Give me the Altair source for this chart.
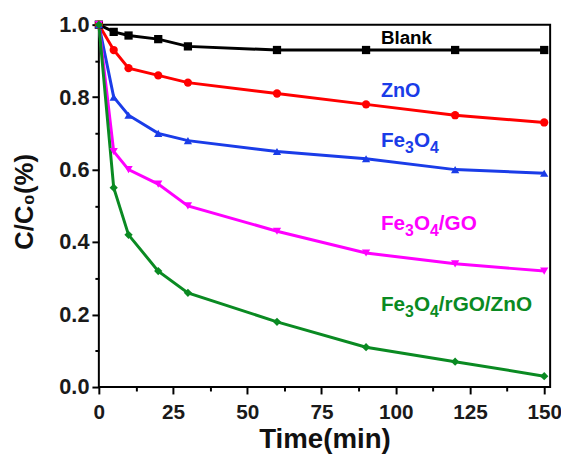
import altair as alt
import pandas as pd

# ---- data ----
time_min = [0, 5, 10, 20, 30, 60, 90, 120, 150]
blank = [1.00, 0.98, 0.97, 0.96, 0.94, 0.93, 0.93, 0.93, 0.93]
zno = [1.00, 0.93, 0.88, 0.86, 0.84, 0.81, 0.78, 0.75, 0.73]
fe3o4 = [1.00, 0.80, 0.75, 0.70, 0.68, 0.65, 0.63, 0.60, 0.59]
fe3o4_go = [1.00, 0.65, 0.60, 0.56, 0.50, 0.43, 0.37, 0.34, 0.32]
fe3o4_rgo_zno = [1.00, 0.55, 0.42, 0.32, 0.26, 0.18, 0.11, 0.07, 0.03]

series_names = ["Blank", "ZnO", "Fe3O4", "Fe3O4/GO", "Fe3O4/rGO/ZnO"]
series_values = [blank, zno, fe3o4, fe3o4_go, fe3o4_rgo_zno]
series_colors = ["#000000", "#FF0000", "#1a3ce8", "#FF00FF", "#0a8a22"]
series_shapes = ["square", "circle", "triangle-up", "triangle-down", "diamond"]

# labels as (text, is_subscript) pieces
label_pieces = [
    [("Blank", False)],
    [("ZnO", False)],
    [("Fe", False), ("3", True), ("O", False), ("4", True)],
    [("Fe", False), ("3", True), ("O", False), ("4", True), ("/GO", False)],
    [("Fe", False), ("3", True), ("O", False), ("4", True), ("/rGO/ZnO", False)],
]
label_colors = ["#000000", "#1a3ce8", "#1a3ce8", "#FF00FF", "#0a8a22"]
label_sizes = [19, 20, 21, 21, 21]
label_x = [95, 95, 95, 95, 95]
label_y = [0.946, 0.80, 0.662, 0.432, 0.211]

x_major = [0, 25, 50, 75, 100, 125, 150]
x_minor = [12.5, 37.5, 62.5, 87.5, 112.5, 137.5]
y_major = [0.0, 0.2, 0.4, 0.6, 0.8, 1.0]
y_minor = [0.1, 0.3, 0.5, 0.7, 0.9]

W, H = 457, 367
X_DOMAIN = [0, 152]
SUB_FS = 16

# Arial/Liberation Sans Bold advance widths (em)
ADV = {"F": .611, "e": .556, "O": .778, "/": .278, "r": .389, "G": .778,
       "Z": .611, "n": .611}
for d in "0123456789":
    ADV[d] = .556

rows = []
for name, vals in zip(series_names, series_values):
    for t, v in zip(time_min, vals):
        rows.append({"series": name, "time": t, "c": v})
df = pd.DataFrame(rows)

px_per_unit = W / (X_DOMAIN[1] - X_DOMAIN[0])
seg_rows = []
for pieces, col, fsz, lx, ly in zip(label_pieces, label_colors, label_sizes, label_x, label_y):
    off = 0.0
    for txt, sub in pieces:
        fs = SUB_FS if sub else fsz
        seg_rows.append({"text": txt, "color": col, "x": lx + off / px_per_unit,
                         "y": ly, "sub": sub, "fs": fs})
        off += sum(ADV.get(ch, .6) for ch in txt) * fs
segs = pd.DataFrame(seg_rows)

FONT = "Liberation Sans"
xs = alt.Scale(domain=X_DOMAIN, nice=False, zero=False)
ys = alt.Scale(domain=[0, 1.0], nice=False, zero=False)
color_scale = alt.Scale(domain=series_names, range=series_colors)
shape_scale = alt.Scale(domain=series_names, range=series_shapes)

x_axis = alt.Axis(values=x_major, title="Time(min)", grid=False, domain=False,
                  tickSize=7, tickWidth=2, tickColor="black",
                  labelFont=FONT, labelFontSize=21, labelFontWeight="bold",
                  labelColor="#1a1a1a", labelPadding=8, labelFlush=False,
                  titleFont=FONT, titleFontSize=28, titleFontWeight="bold",
                  titleColor="#111", titlePadding=3, orient="bottom")
y_axis = alt.Axis(values=y_major, title="C/C₀(%)", grid=False, domain=False,
                  tickSize=7, tickWidth=2, tickColor="black", format=".1f",
                  labelFont=FONT, labelFontSize=22, labelFontWeight="bold",
                  labelColor="#1a1a1a", labelPadding=3, labelFlush=False,
                  titleFont=FONT, titleFontSize=26, titleFontWeight="bold",
                  titleColor="#111", titlePadding=22, titleY=179, orient="left")

lines = alt.Chart(df).mark_line(strokeWidth=3).encode(
    x=alt.X("time:Q", scale=xs, axis=x_axis),
    y=alt.Y("c:Q", scale=ys, axis=y_axis),
    color=alt.Color("series:N", scale=color_scale, legend=None),
    detail="series:N",
)
points = alt.Chart(df).mark_point(filled=True, size=70, opacity=1).encode(
    x=alt.X("time:Q", scale=xs, axis=None),
    y=alt.Y("c:Q", scale=ys, axis=None),
    color=alt.Color("series:N", scale=color_scale, legend=None),
    shape=alt.Shape("series:N", scale=shape_scale, legend=None),
)
main_text = alt.Chart(segs).transform_filter("!datum.sub").mark_text(
    align="left", baseline="alphabetic", font=FONT, fontWeight="bold"
).encode(
    x=alt.X("x:Q", scale=xs, axis=None),
    y=alt.Y("y:Q", scale=ys, axis=None),
    text="text:N",
    size=alt.Size("fs:Q", scale=None),
    color=alt.Color("color:N", scale=None),
)
sub_text = alt.Chart(segs).transform_filter("datum.sub").mark_text(
    align="left", baseline="alphabetic", font=FONT, fontWeight="bold", dy=6
).encode(
    x=alt.X("x:Q", scale=xs, axis=None),
    y=alt.Y("y:Q", scale=ys, axis=None),
    text="text:N",
    size=alt.Size("fs:Q", scale=None),
    color=alt.Color("color:N", scale=None),
)

xminor = alt.Chart(pd.DataFrame({"xm": x_minor})).mark_point(opacity=0).encode(
    x=alt.X("xm:Q", scale=xs, axis=alt.Axis(values=x_minor, labels=False, title=None,
                                              grid=False, domain=False, tickSize=4,
                                              tickWidth=2, tickColor="black", orient="bottom")),
)
yminor = alt.Chart(pd.DataFrame({"ym": y_minor})).mark_point(opacity=0).encode(
    y=alt.Y("ym:Q", scale=ys, axis=alt.Axis(values=y_minor, labels=False, title=None,
                                              grid=False, domain=False, tickSize=4,
                                              tickWidth=2, tickColor="black", orient="left")),
)

chart = alt.layer(lines, points, main_text, sub_text, xminor, yminor).resolve_axis(
    x="independent", y="independent"
).properties(
    width=W, height=H,
    autosize=alt.AutoSizeParams(type="none"),
    padding={"left": 92, "top": 14, "right": 11, "bottom": 69},
).configure_view(stroke="black", strokeWidth=2)

chart.save("out.html", embed_options={"renderer": "svg", "actions": False})
